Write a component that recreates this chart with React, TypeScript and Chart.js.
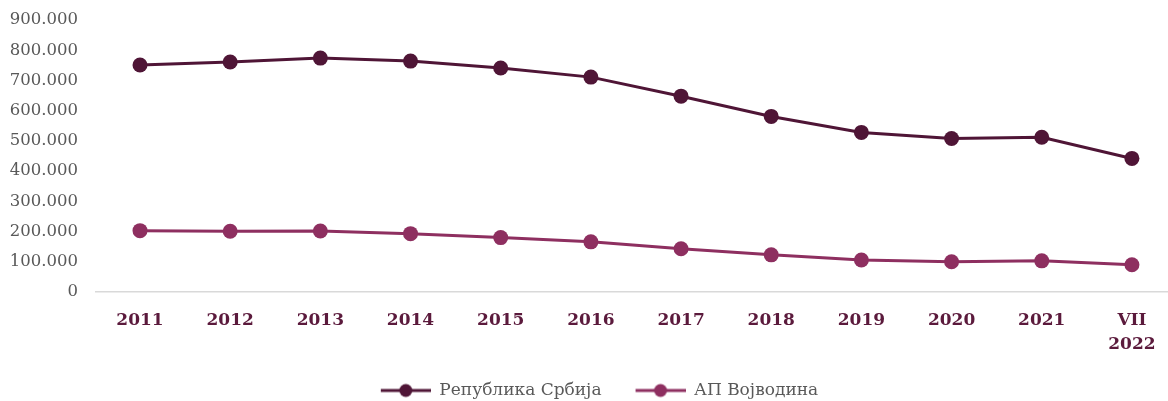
import React, { useEffect, useRef } from "react";
import { Chart, registerables } from "chart.js";

Chart.register(...registerables);

const categories: string[][] = [["2011"], ["2012"], ["2013"], ["2014"], ["2015"], ["2016"], ["2017"], ["2018"], ["2019"], ["2020"], ["2021"], ["VII", "2022"]];
const serbia: number[] = [751000, 761000, 774000, 764000, 741000, 711000, 648000, 581000, 528000, 508000, 512000, 442000];
const vojvodina: number[] = [203000, 201000, 202000, 193000, 180000, 166000, 143000, 123000, 106000, 100000, 103000, 90000];
const seriesNames: string[] = ["Република Србија", "АП Војводина"];
const colors: string[] = ["#4F1536", "#8E2F60"];

const FONT = "'DejaVu Serif', serif";
const ICON_MARGIN = 31;
const ICON_LINE = 50;

function fmt(v: number): string {
  return String(v).replace(/\B(?=(\d{3})+(?!\d))/g, ".");
}

function legendIcon(color: string): HTMLCanvasElement {
  const c = document.createElement("canvas");
  c.width = ICON_MARGIN + ICON_LINE;
  c.height = 16;
  const ctx = c.getContext("2d")!;
  ctx.strokeStyle = color;
  ctx.lineWidth = 3;
  ctx.beginPath();
  ctx.moveTo(ICON_MARGIN, 8);
  ctx.lineTo(ICON_MARGIN + ICON_LINE, 8);
  ctx.stroke();
  ctx.fillStyle = color;
  ctx.beginPath();
  ctx.arc(ICON_MARGIN + ICON_LINE / 2, 8, 6.5, 0, Math.PI * 2);
  ctx.fill();
  return c;
}

export default function App() {
  const ref = useRef<HTMLCanvasElement | null>(null);
  useEffect(() => {
    document.body.style.margin = "0";
    const icons = colors.map(legendIcon);
    const mk = (vals: number[], i: number) => ({
      label: seriesNames[i],
      data: vals.map((y, x) => ({ x, y })),
      borderColor: colors[i],
      backgroundColor: colors[i],
      pointBackgroundColor: colors[i],
      pointBorderColor: colors[i],
      pointBorderWidth: 0,
      pointRadius: 7.5,
      pointHoverRadius: 7.5,
      borderWidth: 3,
      tension: 0,
      clip: false as any,
      pointStyle: "circle" as const,
    });
    const chart = new Chart(ref.current!, {
      type: "line",
      data: {
        datasets: [mk(serbia, 0), mk(vojvodina, 1)],
      },
      options: {
        animation: false,
        responsive: true,
        maintainAspectRatio: false,
        layout: { autoPadding: false, padding: { left: 0, right: 0, top: 20, bottom: -8 } },
        plugins: {
          tooltip: { enabled: false },
          legend: {
            position: "bottom",
            labels: {
              usePointStyle: true,
              pointStyleWidth: ICON_MARGIN + ICON_LINE,
              color: "#595959",
              font: { family: FONT, size: 17 },
              padding: 3,
              generateLabels: (ch: any) =>
                ch.data.datasets.map((d: any, i: number) => ({
                  text: d.label,
                  fillStyle: colors[i],
                  strokeStyle: colors[i],
                  pointStyle: icons[i],
                  fontColor: "#595959",
                  hidden: false,
                  datasetIndex: i,
                  lineWidth: 0,
                })),
            },
          },
        },
        scales: {
          x: {
            type: "linear",
            min: -0.488,
            max: 11.4,
            grid: { display: false, drawTicks: false },
            border: { display: true, color: "#D9D9D9", width: 1.5 },
            afterBuildTicks: (s: any) => {
              s.ticks = categories.map((_, i) => ({ value: i }));
            },
            afterFit: (s: any) => {
              s.height = 87;
              s.paddingLeft = 0;
              s.paddingRight = 0;
            },
            ticks: {
              autoSkip: false,
              maxRotation: 0,
              padding: 17,
              color: "#5B1A3C",
              font: { family: FONT, size: 17, weight: "bold", lineHeight: 1.4 },
              callback: (v: any) => categories[Number(v)] ?? "",
            },
          },
          y: {
            min: 0,
            max: 900000,
            grid: { display: false, drawTicks: false },
            border: { display: false },
            afterFit: (s: any) => {
              s.width = 96;
              s.paddingTop = 0;
              s.paddingBottom = 0;
            },
            ticks: {
              stepSize: 100000,
              padding: 18,
              color: "#595959",
              font: { family: FONT, size: 16.5 },
              callback: (v: any) => fmt(Number(v)),
            },
          },
        },
      },
    });
    return () => chart.destroy();
  }, []);
  return (
    <div style={{ width: 1168, height: 401, position: "relative" }}>
      <canvas ref={ref} />
    </div>
  );
}
